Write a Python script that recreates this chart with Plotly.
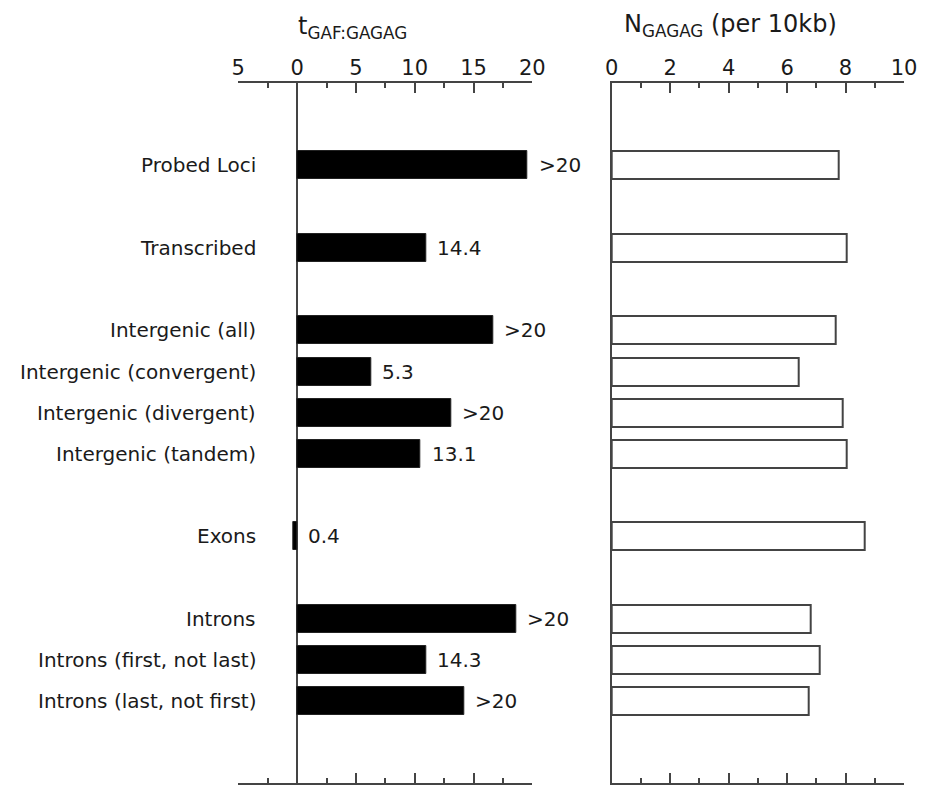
import plotly.graph_objects as go

# ---- data ----
categories = ["Probed Loci", "Transcribed", "Intergenic (all)", "Intergenic (convergent)",
              "Intergenic (divergent)", "Intergenic (tandem)", "Exons", "Introns",
              "Introns (first, not last)", "Introns (last, not first)"]
group_sizes = [1, 1, 4, 1, 3]
t_values = [19.6, 11.0, 16.7, 6.3, 13.1, 10.5, -0.3, 18.6, 11.0, 14.2]
t_labels = [">20", "14.4", ">20", "5.3", ">20", "13.1", "0.4", ">20", "14.3", ">20"]
n_values = [7.75, 8.04, 7.66, 6.39, 7.90, 8.04, 8.67, 6.82, 7.13, 6.75]
t_tickvals = [-5, 0, 5, 10, 15, 20]
t_ticktext = ["5", "0", "5", "10", "15", "20"]
n_tickvals = [0, 2, 4, 6, 8, 10]
n_ticktext = ["0", "2", "4", "6", "8", "10"]

# row positions: one empty slot between groups
pos = []
p = 0
for g in group_sizes:
    for _ in range(g):
        pos.append(p)
        p += 1
    p += 1

W, H = 925, 785
FONT = "DejaVu Sans"
TXT = "#1a1a1a"
LINE = "#444444"

fig = go.Figure()
fig.add_trace(go.Bar(x=t_values, y=pos, orientation="h", width=0.68,
                     marker=dict(color="black", line=dict(color="#222", width=1)),
                     xaxis="x", yaxis="y", showlegend=False, hoverinfo="skip"))
fig.add_trace(go.Bar(x=n_values, y=pos, orientation="h", width=0.68,
                     marker=dict(color="white", line=dict(color="#444", width=2)),
                     xaxis="x2", yaxis="y2", showlegend=False, hoverinfo="skip"))

ydom = [1 - 782.5 / H, 1 - 83 / H]
yrange = [14.97, -2.0]


def xaxis_style(domain, rng, tickvals, ticktext, minor_dtick, anchor):
    return dict(domain=domain, range=rng, tickmode="array", tickvals=tickvals, ticktext=ticktext,
                minor=dict(dtick=minor_dtick, ticklen=5, tickwidth=1.5, tickcolor=LINE, ticks="inside"),
                side="top", ticks="inside", ticklen=10, tickwidth=1.5, tickcolor=LINE,
                showline=True, linecolor=LINE, linewidth=1.5, mirror="ticks",
                showgrid=False, tickfont=dict(family=FONT, size=21, color=TXT),
                ticklabelstandoff=-2, anchor=anchor, automargin=False, fixedrange=True)


xa = xaxis_style([238.3 / W, 532.3 / W], [-5, 20], t_tickvals, t_ticktext, 2.5, "y")
xa.update(zeroline=True, zerolinecolor=LINE, zerolinewidth=1.5)
xb = xaxis_style([611.7 / W, 904 / W], [0, 10], n_tickvals, n_ticktext, 1, "y2")
xb.update(zeroline=False)

fig.update_layout(
    width=W, height=H, autosize=False, margin=dict(l=0, r=0, t=0, b=0, pad=0),
    paper_bgcolor="white", plot_bgcolor="white", showlegend=False,
    font=dict(family=FONT, color=TXT),
    xaxis=xa,
    yaxis=dict(domain=ydom, range=yrange, showline=False, showticklabels=False,
               ticks="", showgrid=False, zeroline=False, anchor="x", automargin=False,
               fixedrange=True),
    xaxis2=xb,
    yaxis2=dict(domain=ydom, range=yrange, showline=True, linecolor=LINE, linewidth=1.5,
                showticklabels=False, ticks="", showgrid=False, zeroline=False, anchor="x2",
                automargin=False, fixedrange=True),
    bargap=0,
)

anns = []
for c, y in zip(categories, pos):
    anns.append(dict(text=c, x=258 / W, xref="paper", y=y, yref="y", xanchor="right",
                     yanchor="middle", showarrow=False, font=dict(family=FONT, size=20, color=TXT)))
for v, lab, y in zip(t_values, t_labels, pos):
    anns.append(dict(text=lab, x=max(v, 0), xref="x", y=y, yref="y", xanchor="left",
                     yanchor="middle", xshift=9, showarrow=False,
                     font=dict(family=FONT, size=20, color=TXT)))
anns.append(dict(text="t<sub>GAF:GAGAG</sub>", x=296 / W, xref="paper", y=1 - 28 / H, yref="paper",
                 xanchor="left", yanchor="middle", showarrow=False,
                 font=dict(family=FONT, size=24, color=TXT)))
anns.append(dict(text="N<sub>GAGAG</sub> (per 10kb)", x=622 / W, xref="paper", y=1 - 26 / H, yref="paper",
                 xanchor="left", yanchor="middle", showarrow=False,
                 font=dict(family=FONT, size=24, color=TXT)))
fig.update_layout(annotations=anns)

fig.write_html("out.html")
